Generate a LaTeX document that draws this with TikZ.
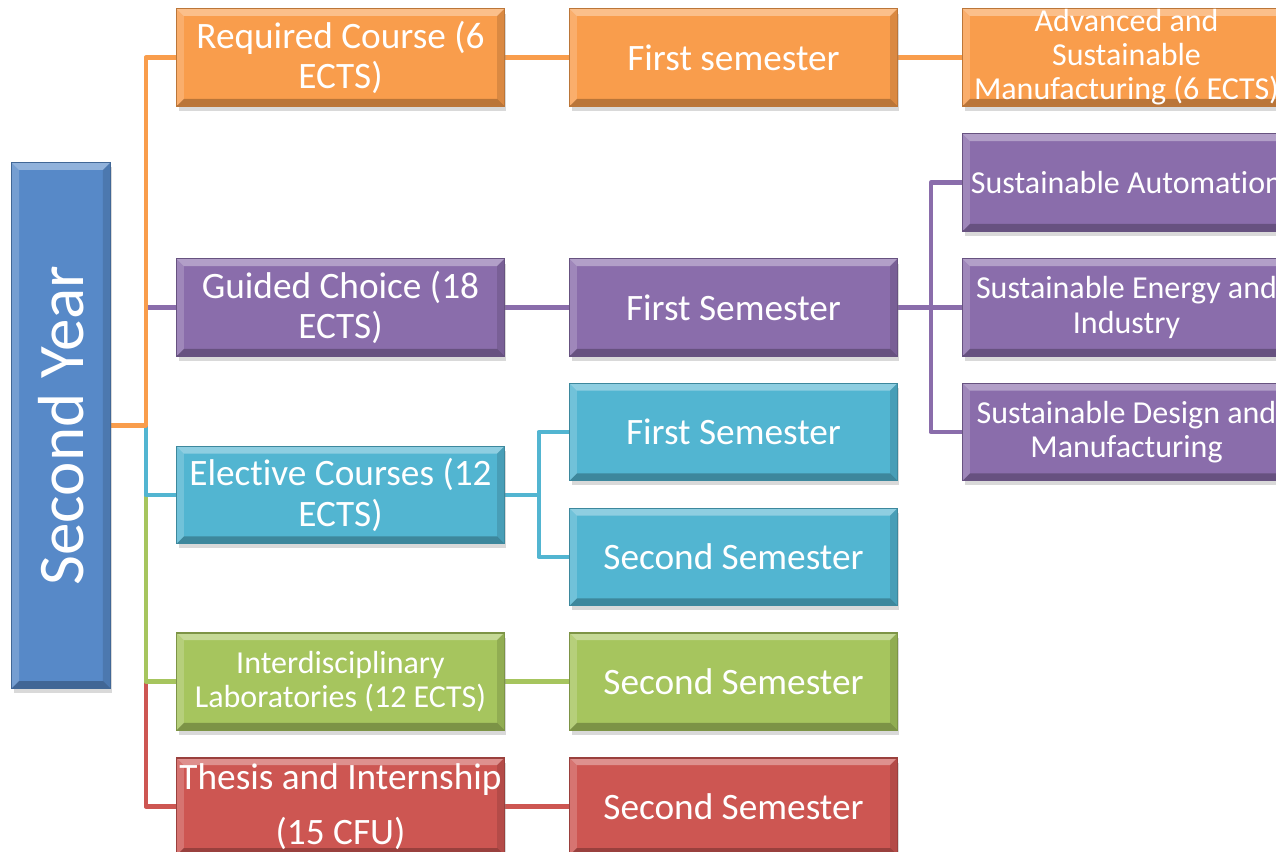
\documentclass[tikz,border=0pt]{standalone}
\usepackage{fontspec}
\setmainfont{Carlito}[Ligatures=NoCommon]
\usetikzlibrary{shadows,backgrounds}

\definecolor{cBlue}{HTML}{5789C8}
\definecolor{cOrange}{HTML}{F99D4C}
\definecolor{cPurple}{HTML}{8A6DAB}
\definecolor{cCyan}{HTML}{52B5D1}
\definecolor{cGreen}{HTML}{A6C55E}
\definecolor{cRed}{HTML}{CD5652}

\tikzset{
  bevelfx/.style={path picture={
    \fill[white,opacity=.35] (path picture bounding box.north west) -- (path picture bounding box.north east)
      -- ([shift={(-2pt,-2pt)}]path picture bounding box.north east) -- ([shift={(2pt,-2pt)}]path picture bounding box.north west) -- cycle;
    \fill[white,opacity=.18] (path picture bounding box.north west) -- (path picture bounding box.south west)
      -- ([shift={(2pt,2pt)}]path picture bounding box.south west) -- ([shift={(2pt,-2pt)}]path picture bounding box.north west) -- cycle;
    \fill[black,opacity=.12] (path picture bounding box.north east) -- (path picture bounding box.south east)
      -- ([shift={(-2pt,2pt)}]path picture bounding box.south east) -- ([shift={(-2pt,-2pt)}]path picture bounding box.north east) -- cycle;
    \fill[black,opacity=.25] (path picture bounding box.south west) -- (path picture bounding box.south east)
      -- ([shift={(-2pt,2pt)}]path picture bounding box.south east) -- ([shift={(2pt,2pt)}]path picture bounding box.south west) -- cycle;
  }},
  box/.style={rectangle, fill=#1, draw=#1!75!black, line width=0.3pt, text=white, align=center,
    minimum width=3.27cm, minimum height=0.97cm, inner xsep=0pt, inner ysep=1pt,
    drop shadow={shadow xshift=0.5pt, shadow yshift=-1.3pt, opacity=0.3}, bevelfx},
  midtxt/.style={font=\fontsize{10.6}{11.4}\selectfont},
  semtxt/.style={font=\fontsize{10.6}{11.4}\selectfont},
  smalltxt/.style={font=\fontsize{9.1}{9.7}\selectfont},
  link/.style={draw=#1, line width=1.15pt, line join=round},
}

\begin{document}
\begin{tikzpicture}[x=0.01cm, y=-0.01cm]
    \useasboundingbox (0,0) rectangle (1276,852);
    \clip (0,0) rectangle (1276,852);

    % year
    \node (sy) [box=cBlue, minimum width=0.98cm, minimum height=5.25cm] at (61,425.5) {};
    \node (sytext) [rotate=90, text=white, font=\fontsize{18.5}{20}\selectfont] at (sy.center) {Second Year};

    % course groups
    \node (req) [box=cOrange, midtxt] at (340.5,57.5) {Required Course (6\\ECTS)};
    \node (gui) [box=cPurple, midtxt] at (340.5,307.5) {Guided Choice (18\\ECTS)};
    \node (ele) [box=cCyan, midtxt] at (340.5,495) {Elective Courses (12\\ECTS)};
    \node (lab) [box=cGreen, smalltxt] at (340.5,681.5) {Interdisciplinary\\Laboratories (12 ECTS)};
    \node (the) [box=cRed, inner ysep=-3pt, font=\fontsize{10.6}{15.5}\selectfont] at (340.5,806.5) {Thesis and Internship\\(15 CFU)};

    % semesters
    \node (semreq) [box=cOrange, semtxt] at (733.5,57.5) {First semester};
    \node (semgui) [box=cPurple, semtxt] at (733.5,307.5) {First Semester};
    \node (semeleA) [box=cCyan, semtxt] at (733.5,432) {First Semester};
    \node (semeleB) [box=cCyan, semtxt] at (733.5,557) {Second Semester};
    \node (semlab) [box=cGreen, semtxt] at (733.5,681.5) {Second Semester};
    \node (semthe) [box=cRed, semtxt] at (733.5,806.5) {Second Semester};

    % courses
    \node (adv) [box=cOrange, inner ysep=-3pt, smalltxt] at (1126.5,57.5) {Advanced and\\Sustainable\\Manufacturing (6 ECTS)};
    \node (aut) [box=cPurple, smalltxt] at (1126.5,182.5) {Sustainable Automation};
    \node (ene) [box=cPurple, smalltxt] at (1126.5,307.5) {Sustainable Energy and\\Industry};
    \node (des) [box=cPurple, smalltxt] at (1126.5,432) {Sustainable Design and\\Manufacturing};

    \begin{scope}[on background layer]
        \draw[link=cRed] (sy.east) -- ++(35,0) |- (the.west);
        \draw[link=cGreen] (sy.east) -- ++(35,0) |- (lab.west);
        \draw[link=cCyan] (sy.east) -- ++(35,0) |- (ele.west);
        \draw[link=cPurple] (sy.east) -- ++(35,0) |- (gui.west);
        \draw[link=cOrange] (sy.east) -- ++(35,0) |- (req.west);

        \draw[link=cOrange] (req) -- (semreq);
        \draw[link=cPurple] (gui) -- (semgui);
        \draw[link=cCyan] (ele.east) -- ++(34,0) |- (semeleA.west);
        \draw[link=cCyan] (ele.east) -- ++(34,0) |- (semeleB.west);
        \draw[link=cGreen] (lab) -- (semlab);
        \draw[link=cRed] (the) -- (semthe);

        \draw[link=cOrange] (semreq) -- (adv);
        \draw[link=cPurple] (semgui.east) -- ++(33,0) |- (aut.west);
        \draw[link=cPurple] (semgui.east) -- ++(33,0) |- (ene.west);
        \draw[link=cPurple] (semgui.east) -- ++(33,0) |- (des.west);
    \end{scope}

\end{tikzpicture}
\end{document}
